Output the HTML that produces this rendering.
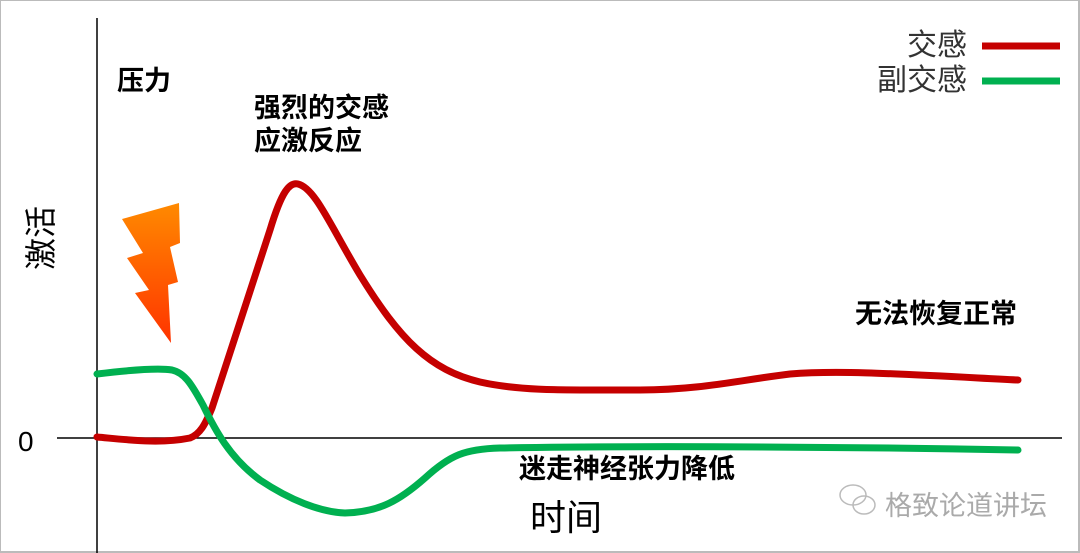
<!DOCTYPE html>
<html><head><meta charset="utf-8"><style>
body{margin:0;background:#fff}
svg{display:block}
text{font-family:"Liberation Sans","Noto Sans CJK SC",sans-serif}
</style></head><body>
<svg width="1080" height="553" viewBox="0 0 1080 553">
<defs><linearGradient id="g" x1="0" y1="0" x2="0" y2="1"><stop offset="0" stop-color="#ff8a00"/><stop offset="1" stop-color="#ff3300"/></linearGradient></defs>
<rect x="0" y="0" width="1079" height="552" fill="#fff" stroke="#bbb" stroke-width="2"/>
<line x1="97" y1="18" x2="97" y2="553" stroke="#000" stroke-width="1.5"/>
<line x1="57" y1="438" x2="1062" y2="438" stroke="#000" stroke-width="1.5"/>
<polygon points="122,219 179,203 180,243 170,247 178,282 168,285 171,343 135,293 149,290 127,258 143,253" fill="url(#g)"/>
<path d="M97,437 C130,440 160,444 190,438 C200,434 205,425 212,408 L270,230 C282,190 290,182 298,184 C315,188 330,225 360,275 C400,340 430,370 480,382 C520,391 560,390 640,390 C700,390 740,380 790,374 C840,370 900,374 1018,380" fill="none" stroke="#c50000" stroke-width="7" stroke-linecap="round"/>
<path d="M97,374 C130,370 160,368 172,370 C185,373 192,385 203,405 C215,430 230,458 260,480 C290,500 320,512 345,513 C380,512 400,500 425,478 C450,455 465,449 500,448 C600,446 800,446 1018,450" fill="none" stroke="#00b050" stroke-width="7" stroke-linecap="round"/>
<text x="117" y="90" font-size="27" font-weight="bold">压力</text>
<text x="254" y="117" font-size="27" font-weight="bold">强烈的交感</text>
<text x="254" y="150" font-size="27" font-weight="bold">应激反应</text>
<text x="855" y="323" font-size="27" font-weight="bold">无法恢复正常</text>
<text x="519" y="478" font-size="27" font-weight="bold">迷走神经张力降低</text>
<text x="530" y="530" font-size="36">时间</text>
<text x="18" y="451" font-size="28">0</text>
<text transform="translate(52,238) rotate(-90)" font-size="32" text-anchor="middle">激活</text>
<text x="967" y="55" font-size="30" text-anchor="end" fill="#333">交感</text>
<text x="967" y="90" font-size="30" text-anchor="end" fill="#333">副交感</text>
<line x1="982" y1="46" x2="1060" y2="46" stroke="#c50000" stroke-width="7"/>
<line x1="982" y1="81" x2="1060" y2="81" stroke="#00b050" stroke-width="7"/>
<g fill="none" stroke="#bbb" stroke-width="1.5"><ellipse cx="853" cy="495" rx="13" ry="10"/><ellipse cx="864" cy="505" rx="11" ry="9"/></g>
<text x="885" y="515" font-size="27" fill="#aaa">格致论道讲坛</text>
</svg>
</body></html>
